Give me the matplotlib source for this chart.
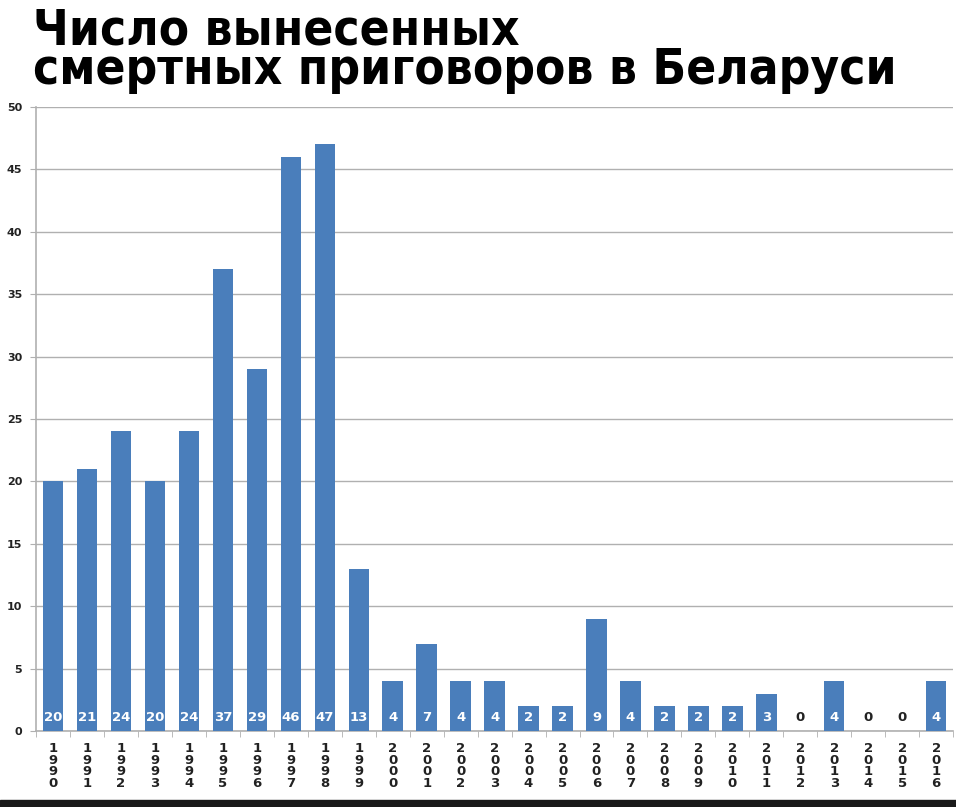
import matplotlib.pyplot as plt
from matplotlib.patches import Rectangle

years = [str(y) for y in range(1990, 2017)]
counts = [20, 21, 24, 20, 24, 37, 29, 46, 47, 13, 4, 7, 4, 4, 2, 2, 9, 4, 2, 2, 2, 3, 0, 4, 0, 0, 4]
title = "Число вынесенных\nсмертных приговоров в Беларуси"

BAR = "#4a7ebb"

fig = plt.figure(figsize=(9.56, 8.07), dpi=100)
ax = fig.add_axes([0.0377, 0.0942, 0.9593, 0.7732])

x = list(range(len(years)))
ax.bar(x, counts, width=0.6, color=BAR, zorder=3)

# value labels at the foot of each bar
for xi, v in zip(x, counts):
    col = "white" if v > 0 else "#222222"
    ax.text(xi, 1.1, str(v), ha="center", va="center", fontsize=9.5,
            fontweight="bold", color=col, zorder=4)

ax.set_xlim(-0.5, len(years) - 0.5)
ax.set_ylim(0, 50)
ax.set_yticks(range(0, 51, 5))
ax.set_yticklabels([str(v) for v in range(0, 51, 5)], fontsize=8, fontweight="bold", color="#222222")
ax.yaxis.grid(True, color="#b0b0b0", linewidth=1, zorder=0)

ax.set_xticks(x)
ax.set_xticklabels(["\n".join(y) for y in years], fontsize=9.5, fontweight="bold",
                   color="#222222", linespacing=0.85)
ax.set_xticks([i - 0.5 for i in range(len(years) + 1)], minor=True)
ax.tick_params(axis="x", which="major", length=0, pad=8)
ax.tick_params(axis="x", which="minor", length=4, color="#b0b0b0")
ax.tick_params(axis="y", length=4, color="#b0b0b0", pad=6)

for side in ["top", "right"]:
    ax.spines[side].set_visible(False)
for side in ["left", "bottom"]:
    ax.spines[side].set_color("#b0b0b0")
    ax.spines[side].set_linewidth(1.2)

fig.text(0.034, 0.992, title, ha="left", va="top", fontsize=35.5, fontweight="bold",
         family="DejaVu Sans", fontstretch="condensed", linespacing=0.78)

fig.patches.append(Rectangle((0, 0), 1, 0.009, transform=fig.transFigure,
                             color="#1a1a1a", zorder=10))

fig.savefig("out.png", dpi=100)
